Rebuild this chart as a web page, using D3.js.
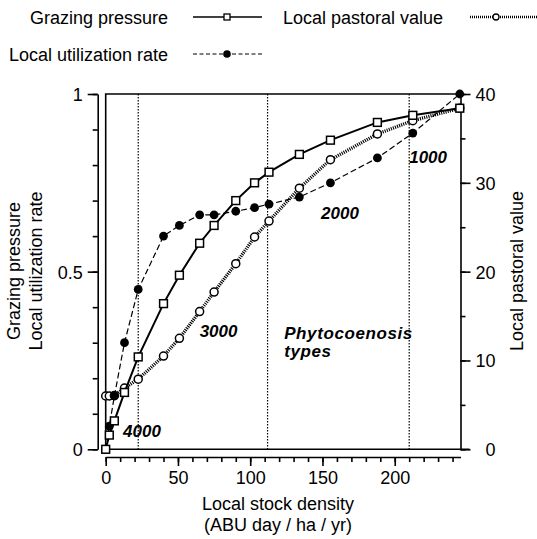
<!DOCTYPE html>
<html>
<head>
<meta charset="utf-8">
<script src="https://cdn.jsdelivr.net/npm/d3@7"></script>
<style>
  body { margin: 0; background: #fff; }
  svg { display: block; font-family: "Liberation Sans", Arial, Helvetica, sans-serif; }
  .lbl { font-size: 18px; fill: #000; }
  .zone { font-size: 17px; font-weight: bold; font-style: italic; fill: #000; }
</style>
</head>
<body>
<svg id="chart" width="537" height="539"></svg>
<script>
// stock density (ABU day / ha / yr)
const stockDensity = [0, 2.5, 6, 13, 22.5, 40, 51, 65, 75, 90, 103, 113, 134, 155.5, 188, 212.5, 245];
const grazingPressure = [0, 0.04, 0.08, 0.16, 0.26, 0.41, 0.49, 0.58, 0.63, 0.70, 0.75, 0.78, 0.83, 0.87, 0.92, 0.94, 0.96];
const utilizationRate = [0, 0.065, 0.15, 0.30, 0.45, 0.60, 0.63, 0.66, 0.66, 0.67, 0.68, 0.69, 0.71, 0.75, 0.82, 0.89, 1.0];
const pastoralValue = [6.0, 6.0, 6.05, 6.9, 7.9, 10.5, 12.5, 15.5, 17.7, 20.9, 23.9, 25.7, 29.4, 32.6, 35.5, 37.0, 38.4];

// phytocoenosis type boundaries and labels
const boundaries = [22.5, 112, 210];
const zoneLabels = ['4000', '3000', '2000', '1000'];
const zoneLabelPos = [[12, 0.035], [65, 0.315], [149, 0.648], [210, 0.805]];

const xTicks = [0, 50, 100, 150, 200];
const leftTicks = [0, 0.5, 1];
const rightTicks = [0, 10, 20, 30, 40];

const svg = d3.select('#chart');
const pLeft = 105.7, pRight = 460.5, pTop = 94, pBottom = 449.3;

const x = d3.scaleLinear().domain([0, 245.5]).range([pLeft, pRight]);
const yL = d3.scaleLinear().domain([0, 1]).range([pBottom, pTop]);
const yR = d3.scaleLinear().domain([0, 40]).range([pBottom, pTop]);

const axisW = 1.6;

// plot frame (top, left, bottom)
svg.append('path')
    .attr('d', 'M' + pRight + ',' + pTop + 'H' + pLeft + 'V' + pBottom + 'H' + (pRight + 9))
    .attr('fill', 'none').attr('stroke', '#000').attr('stroke-width', axisW);

function styleAxis(g) {
    g.selectAll('path.domain').attr('stroke-width', axisW);
    g.selectAll('line').attr('stroke-width', axisW);
    g.selectAll('text').attr('class', 'lbl');
    g.attr('font-family', null).attr('font-size', null);
    g.selectAll('g').attr('font-family', null).attr('font-size', null);
}

// bottom axis (offset below the frame)
const gx = svg.append('g').attr('transform', 'translate(0,' + 457 + ')');
gx.call(d3.axisBottom(x).tickValues(d3.range(0, 241, 10)).tickSize(5).tickSizeOuter(0).tickFormat(''));
gx.append('g').call(d3.axisBottom(x).tickValues(xTicks).tickSize(9).tickSizeOuter(0).tickFormat(d3.format('d')))
    .call(g => g.select('.domain').remove());
gx.selectAll('text').attr('dy', '0.9em').attr('y', 11);
styleAxis(gx);

// left axis (offset left of the frame)
const gl = svg.append('g').attr('transform', 'translate(97.7,0)');
gl.call(d3.axisLeft(yL).tickValues(d3.range(0, 1.01, 0.1)).tickSize(5).tickSizeOuter(0).tickFormat(''));
gl.append('g').call(d3.axisLeft(yL).tickValues(leftTicks).tickSize(10).tickSizeOuter(0).tickFormat(d => d === 0.5 ? '0.5' : d3.format('d')(d)))
    .call(g => g.select('.domain').remove());
gl.selectAll('text').attr('x', -15).attr('dy', '0.36em');
styleAxis(gl);

// right axis
const gr = svg.append('g').attr('transform', 'translate(' + pRight + ',0)');
gr.call(d3.axisRight(yR).tickValues(d3.range(0, 41, 5)).tickSize(5).tickSizeOuter(0).tickFormat(''));
gr.append('g').call(d3.axisRight(yR).tickValues(rightTicks).tickSize(10).tickSizeOuter(0).tickFormat(d3.format('d')))
    .call(g => g.select('.domain').remove());
gr.selectAll('text').attr('x', 35).attr('text-anchor', 'end').attr('dy', '0.36em');
styleAxis(gr);

// phytocoenosis boundaries
svg.selectAll('line.bound').data(boundaries).enter().append('line')
    .attr('class', 'bound')
    .attr('x1', d => x(d)).attr('x2', d => x(d))
    .attr('y1', pTop).attr('y2', pBottom)
    .attr('stroke', '#000').attr('stroke-width', 1.2).attr('stroke-dasharray', '1.5,1.5');

svg.selectAll('text.zone').data(zoneLabels).enter().append('text')
    .attr('class', 'zone')
    .attr('x', (d, i) => x(zoneLabelPos[i][0]))
    .attr('y', (d, i) => yL(zoneLabelPos[i][1]))
    .text(d => d);

const phyto = svg.append('text').attr('class', 'zone')
    .attr('letter-spacing', 0.6)
    .attr('x', x(123.5)).attr('y', yL(0.31));
phyto.append('tspan').text('Phytocoenosis');
phyto.append('tspan').attr('x', x(123.5)).attr('dy', 18).text('types');

// series
const pts = stockDensity.map((d, i) => ({x: d, g: grazingPressure[i], u: utilizationRate[i], p: pastoralValue[i]}));

const lineP = d3.line().x(d => x(d.x)).y(d => yR(d.p));
const lineU = d3.line().x(d => x(d.x)).y(d => yL(d.u));
const lineG = d3.line().x(d => x(d.x)).y(d => yL(d.g));

svg.append('path').datum(pts).attr('d', lineP)
    .attr('fill', 'none').attr('stroke', '#000').attr('stroke-width', 3.4).attr('stroke-dasharray', '1.1,1.1');
svg.append('path').datum(pts).attr('d', lineU)
    .attr('fill', 'none').attr('stroke', '#000').attr('stroke-width', 1.2).attr('stroke-dasharray', '6,3');

svg.selectAll('circle.pv').data(pts).enter().append('circle')
    .attr('class', 'pv')
    .attr('cx', d => x(d.x)).attr('cy', d => yR(d.p)).attr('r', 4)
    .attr('fill', '#fff').attr('stroke', '#000').attr('stroke-width', 1.5);

svg.selectAll('circle.ur').data(pts).enter().append('circle')
    .attr('class', 'ur')
    .attr('cx', d => x(d.x)).attr('cy', d => yL(d.u)).attr('r', 4.4)
    .attr('fill', '#000');

svg.append('path').datum(pts).attr('d', lineG)
    .attr('fill', 'none').attr('stroke', '#000').attr('stroke-width', 2);

svg.selectAll('rect.gp').data(pts).enter().append('rect')
    .attr('class', 'gp')
    .attr('x', d => x(d.x) - 3.9).attr('y', d => yL(d.g) - 3.9)
    .attr('width', 7.8).attr('height', 7.8)
    .attr('fill', '#fff').attr('stroke', '#000').attr('stroke-width', 1.5);

// axis titles
svg.append('text').attr('class', 'lbl').attr('text-anchor', 'middle')
    .attr('x', 278).attr('y', 510).text('Local stock density');
svg.append('text').attr('class', 'lbl').attr('text-anchor', 'middle')
    .attr('x', 278).attr('y', 531).text('(ABU day / ha / yr)');

svg.append('text').attr('class', 'lbl').attr('text-anchor', 'middle')
    .attr('transform', 'translate(20,271) rotate(-90)').text('Grazing pressure');
svg.append('text').attr('class', 'lbl').attr('text-anchor', 'middle')
    .attr('transform', 'translate(42,271) rotate(-90)').text('Local utilization rate');
svg.append('text').attr('class', 'lbl').attr('text-anchor', 'middle')
    .attr('transform', 'translate(523,271) rotate(-90)').text('Local pastoral value');

// legend
const lg = svg.append('g');
lg.append('text').attr('class', 'lbl').attr('text-anchor', 'end').attr('x', 168).attr('y', 24).text('Grazing pressure');
lg.append('line').attr('x1', 193).attr('x2', 262).attr('y1', 17).attr('y2', 17)
    .attr('stroke', '#000').attr('stroke-width', 1.5);
lg.append('rect').attr('x', 224).attr('y', 14).attr('width', 6).attr('height', 6)
    .attr('fill', '#fff').attr('stroke', '#000').attr('stroke-width', 1.3);

lg.append('text').attr('class', 'lbl').attr('x', 283).attr('y', 24).text('Local pastoral value');
lg.append('line').attr('x1', 470).attr('x2', 537).attr('y1', 17).attr('y2', 17)
    .attr('stroke', '#000').attr('stroke-width', 2.5).attr('stroke-dasharray', '1,1');
lg.append('circle').attr('cx', 496).attr('cy', 17).attr('r', 3)
    .attr('fill', '#fff').attr('stroke', '#000').attr('stroke-width', 1.3);

lg.append('text').attr('class', 'lbl').attr('x', 9).attr('y', 61).text('Local utilization rate');
lg.append('line').attr('x1', 193).attr('x2', 262).attr('y1', 54).attr('y2', 54)
    .attr('stroke', '#000').attr('stroke-width', 1.2).attr('stroke-dasharray', '4,2.5');
lg.append('circle').attr('cx', 227).attr('cy', 54).attr('r', 3.8).attr('fill', '#000');
</script>
</body>
</html>
